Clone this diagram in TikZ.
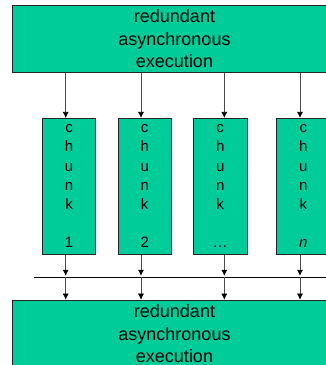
\documentclass[tikz,border=0pt]{standalone}
\usepackage{fontspec}
\setmainfont{Liberation Sans}
\usetikzlibrary{arrows.meta}
\definecolor{boxgreen}{RGB}{0,204,153}
% vertical "chunk" caption, one letter per row, with the index below a gap
\newcommand{\chunklabel}[1]{\raisebox{-2.5pt}{\renewcommand{\arraystretch}{1}%
  \begin{tabular}{@{}c@{}}c\\h\\u\\n\\k\\ \\#1\end{tabular}}}
\begin{document}
\begin{tikzpicture}[x=1pt,y=1pt,
  box/.style={draw=black!85, line width=0.7pt, fill=boxgreen, inner sep=0pt},
  bigbox/.style={box, minimum width=324pt, minimum height=67.7pt, align=center,
    font=\fontsize{18}{22.5}\selectfont},
  chunkbox/.style={box, minimum width=53.3pt, minimum height=136pt,
    font=\fontsize{15}{19.1}\selectfont},
  arr/.style={draw=black!70, line width=0.7pt, -{Latex[length=6pt,width=6pt,black]}}
]
\useasboundingbox (0,0) rectangle (326,365);
\clip (0,0) rectangle (326,365);

% input and output stages
\node[bigbox] (top) at (174.5,326.15) {redundant\\asynchronous\\execution};
\node[bigbox] (bot) at (174.5,31.15) {redundant\\asynchronous\\execution};

% the chunks
\node[chunkbox] (c1) at (69,178.7)    {\chunklabel{1}};
\node[chunkbox] (c2) at (144.7,178.7) {\chunklabel{2}};
\node[chunkbox] (c3) at (220.2,178.7) {\chunklabel{\dots}};
\node[chunkbox] (c4) at (303.3,178.7) {\chunklabel{\textit{n}}};

% arrow columns
\coordinate (x1) at (65.7,0);
\coordinate (x2) at (141,0);
\coordinate (x3) at (224.3,0);
\coordinate (x4) at (300,0);

% synchronisation bar
\coordinate (busL) at (34,87.7);
\coordinate (busR) at (330,87.7);
\draw[line width=0.7pt] (busL) -- (busR);

\foreach \i in {1,...,4}{
  \draw[arr] (top.south -| x\i) -- (c\i.north -| x\i);
  \draw[arr, shorten >=1.5pt] (c\i.south -| x\i) -- (busL -| x\i);
  \draw[arr] (busL -| x\i) -- (bot.north -| x\i);
}
\end{tikzpicture}
\end{document}
